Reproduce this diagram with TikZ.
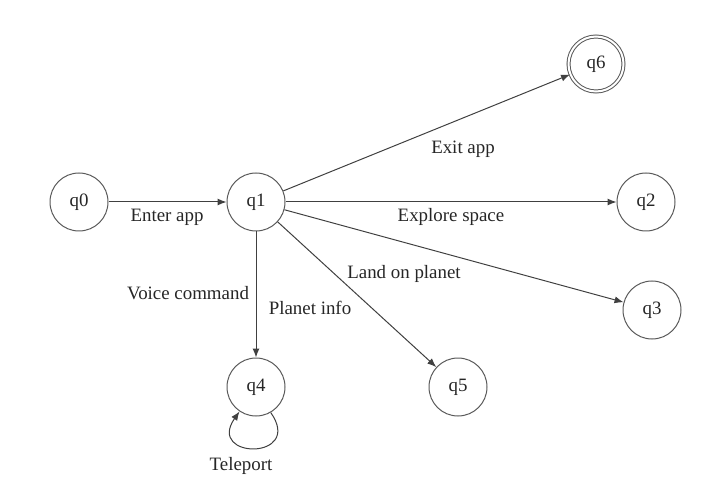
\documentclass[tikz,border=0pt]{standalone}
\usepackage{fontspec}
\setmainfont{Liberation Serif}
\usetikzlibrary{arrows.meta}
\begin{document}
\begin{tikzpicture}[x=1pt, y=-1pt,
  state/.style={circle, draw=black!65, line width=1pt, minimum size=58pt, inner sep=0pt, text=black!85, font=\fontsize{18.9}{22}\selectfont},
  accept/.style={state, double, double distance=2pt, minimum size=55pt},
  lbl/.style={anchor=base, inner sep=0pt, text=black!85, font=\fontsize{18.9}{22}\selectfont},
  edge/.style={draw=black!75, line width=1pt, -{Latex[length=9pt,width=7pt]}}]
\useasboundingbox (0,0) rectangle (709,494);
\node[state] (q0) at (79,202){q0};
\node[state] (q1) at (256,202){q1};
\node[state] (q2) at (646,202){q2};
\node[state] (q3) at (652,310){q3};
\node[state] (q4) at (256,387){q4};
\node[state] (q5) at (458,387){q5};
\node[accept] (q6) at (596,64){q6};
\draw[edge] (q0) -- (q1);
\draw[edge] (q1) -- (q6);
\draw[edge] (q1) -- (q2);
\draw[edge] (q1) -- (q3);
\draw[edge] (q1) -- (q5);
\draw[edge] (q1) -- (q4);
\draw[edge] (q4.-60) to[out=-55, in=-125, looseness=4.8] (q4.-124);
\node[lbl] (lenter) at (167,222){Enter app};
\node[lbl] (lexit) at (463,154){Exit app};
\node[lbl] (lexplore) at (451,222){Explore space};
\node[lbl] (lland) at (404,279){Land on planet};
\node[lbl] (linfo) at (310,314){Planet info};
\node[lbl] (lvoice) at (188,299){Voice command};
\node[lbl] (ltele) at (241,470){Teleport};
\end{tikzpicture}
\end{document}
